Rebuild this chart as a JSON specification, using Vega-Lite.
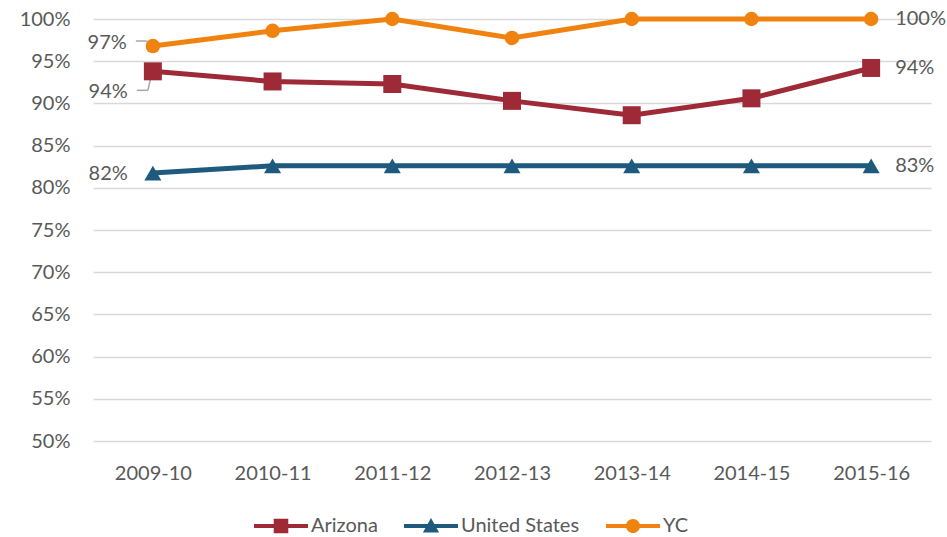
{
  "$schema": "https://vega.github.io/schema/vega-lite/v6.json",
  "width": 838,
  "height": 422,
  "autosize": {"type": "none"},
  "padding": {"left": 93, "top": 19, "right": 16, "bottom": 96},
  "background": "white",
  "config": {
    "view": {"stroke": null},
    "font": "Lato",
    "axis": {"labelFont": "Lato", "labelFontSize": 20, "labelColor": "#595959", "domain": false, "ticks": false, "title": null}
  },
  "data": {
    "values": [
      {"year": "2009-10", "series": "Arizona", "value": 0.938},
      {"year": "2010-11", "series": "Arizona", "value": 0.926},
      {"year": "2011-12", "series": "Arizona", "value": 0.923},
      {"year": "2012-13", "series": "Arizona", "value": 0.903},
      {"year": "2013-14", "series": "Arizona", "value": 0.886},
      {"year": "2014-15", "series": "Arizona", "value": 0.906},
      {"year": "2015-16", "series": "Arizona", "value": 0.942},
      {"year": "2009-10", "series": "United States", "value": 0.8175},
      {"year": "2010-11", "series": "United States", "value": 0.826},
      {"year": "2011-12", "series": "United States", "value": 0.826},
      {"year": "2012-13", "series": "United States", "value": 0.826},
      {"year": "2013-14", "series": "United States", "value": 0.826},
      {"year": "2014-15", "series": "United States", "value": 0.826},
      {"year": "2015-16", "series": "United States", "value": 0.826},
      {"year": "2009-10", "series": "YC", "value": 0.968},
      {"year": "2010-11", "series": "YC", "value": 0.986},
      {"year": "2011-12", "series": "YC", "value": 1.0},
      {"year": "2012-13", "series": "YC", "value": 0.9775},
      {"year": "2013-14", "series": "YC", "value": 1.0},
      {"year": "2014-15", "series": "YC", "value": 1.0},
      {"year": "2015-16", "series": "YC", "value": 1.0}
    ]
  },
  "encoding": {
    "x": {"field": "year", "type": "ordinal", "scale": {"type": "point", "padding": 0.5},
      "axis": {"labelAngle": 0, "labelPadding": 22, "grid": false}},
    "y": {"field": "value", "type": "quantitative", "scale": {"domain": [0.5, 1.0], "nice": false, "zero": false},
      "axis": {"format": ".0%", "values": [0.5, 0.55, 0.6, 0.65, 0.7, 0.75, 0.8, 0.85, 0.9, 0.95, 1.0], "labelPadding": 23, "gridColor": "#d9d9d9", "gridWidth": 1.5}}
  },
  "layer": [
    {
      "transform": [{"filter": "datum.year === '2009-10' && datum.series === 'YC'"}],
      "mark": {"type": "rule", "color": "#a6a6a6", "strokeWidth": 1.5, "xOffset": -17, "x2Offset": -6, "yOffset": -5, "y2Offset": -5},
      "encoding": {"x2": {"field": "year"}, "y2": {"field": "value"}}
    },
    {
      "transform": [{"filter": "datum.year === '2009-10' && datum.series === 'YC'"}],
      "mark": {"type": "rule", "color": "#a6a6a6", "strokeWidth": 1.5, "xOffset": -6, "x2Offset": -1, "yOffset": -5, "y2Offset": 0},
      "encoding": {"x2": {"field": "year"}, "y2": {"field": "value"}}
    },
    {
      "transform": [{"filter": "datum.year === '2009-10' && datum.series === 'Arizona'"}],
      "mark": {"type": "rule", "color": "#a6a6a6", "strokeWidth": 1.5, "xOffset": -16, "x2Offset": -5, "yOffset": 19, "y2Offset": 19},
      "encoding": {"x2": {"field": "year"}, "y2": {"field": "value"}}
    },
    {
      "transform": [{"filter": "datum.year === '2009-10' && datum.series === 'Arizona'"}],
      "mark": {"type": "rule", "color": "#a6a6a6", "strokeWidth": 1.5, "xOffset": -5, "x2Offset": -1, "yOffset": 19, "y2Offset": 2},
      "encoding": {"x2": {"field": "year"}, "y2": {"field": "value"}}
    },
    {
      "mark": {"type": "line", "strokeWidth": 5},
      "encoding": {
        "color": {"field": "series", "type": "nominal",
          "scale": {"domain": ["Arizona", "United States", "YC"], "range": ["#9E2A37", "#1D5A7E", "#F0820F"]},
          "legend": {
            "title": null, "orient": "none", "direction": "horizontal", "legendX": 161, "legendY": 480,
            "symbolSize": 2916, "labelFont": "Lato", "labelFontSize": 20, "labelColor": "#595959",
            "labelOffset": 3, "columnPadding": 26,
            "encode": {"symbols": {"update": {
              "shape": {"signal": "datum.value === 'Arizona' ? 'M-1,-0.075H1V0.075H-1Z M-0.27,-0.27H0.27V0.27H-0.27Z' : datum.value === 'United States' ? 'M-1,-0.075H1V0.075H-1Z M0,-0.3L0.3,0.24L-0.3,0.24Z' : 'M-1,-0.075H1V0.075H-1Z M-0.26,0A0.26,0.26 0 1,1 0.26,0A0.26,0.26 0 1,1 -0.26,0Z'"},
              "fill": {"signal": "datum.value === 'Arizona' ? '#9E2A37' : datum.value === 'United States' ? '#1D5A7E' : '#F0820F'"},
              "fillOpacity": {"value": 1},
              "strokeWidth": {"value": 0},
              "opacity": {"value": 1}
            }}}
          }}
      }
    },
    {
      "transform": [{"filter": "datum.series === 'Arizona'"}],
      "mark": {"type": "point", "shape": "square", "size": 324, "filled": true, "opacity": 1, "color": "#9E2A37"}
    },
    {
      "transform": [{"filter": "datum.series === 'United States'"}],
      "mark": {"type": "point", "shape": "triangle-up", "size": 290, "filled": true, "opacity": 1, "color": "#1D5A7E"}
    },
    {
      "transform": [{"filter": "datum.series === 'YC'"}],
      "mark": {"type": "point", "shape": "circle", "size": 210, "filled": true, "opacity": 1, "color": "#F0820F"}
    },
    {
      "transform": [{"filter": "datum.year === '2015-16'"}],
      "mark": {"type": "text", "align": "left", "baseline": "middle", "dx": 24, "fontSize": 20, "color": "#595959", "font": "Lato"},
      "encoding": {"text": {"field": "value", "type": "quantitative", "format": ".0%"}}
    },
    {
      "transform": [{"filter": "datum.year === '2009-10' && datum.series === 'YC'"}],
      "mark": {"type": "text", "align": "right", "baseline": "middle", "dx": -26, "dy": -3, "fontSize": 20, "color": "#595959", "font": "Lato"},
      "encoding": {"text": {"field": "value", "type": "quantitative", "format": ".0%"}}
    },
    {
      "transform": [{"filter": "datum.year === '2009-10' && datum.series === 'Arizona'"}],
      "mark": {"type": "text", "align": "right", "baseline": "middle", "dx": -25, "dy": 21, "fontSize": 20, "color": "#595959", "font": "Lato"},
      "encoding": {"text": {"field": "value", "type": "quantitative", "format": ".0%"}}
    },
    {
      "transform": [{"filter": "datum.year === '2009-10' && datum.series === 'United States'"}],
      "mark": {"type": "text", "align": "right", "baseline": "middle", "dx": -25, "dy": 1, "fontSize": 20, "color": "#595959", "font": "Lato"},
      "encoding": {"text": {"field": "value", "type": "quantitative", "format": ".0%"}}
    }
  ]
}
